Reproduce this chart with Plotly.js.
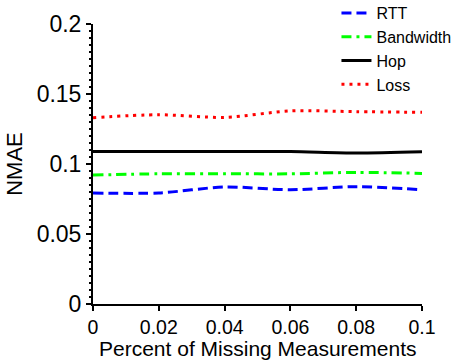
<!DOCTYPE html>
<html>
<head>
<meta charset="utf-8">
<script src="https://cdn.plot.ly/plotly-3.0.1.min.js"></script>
<style>html,body{margin:0;padding:0;background:#fff;}#chart{width:464px;height:360px;}</style>
</head>
<body>
<div id="chart"></div>
<script>
const missing = [0, 0.02, 0.04, 0.06, 0.08, 0.1];
const rtt = [0.0793, 0.0793, 0.0836, 0.0816, 0.0838, 0.0816];
const bandwidth = [0.0921, 0.0930, 0.0930, 0.0930, 0.0940, 0.0933];
const hop = [0.1090, 0.1090, 0.1090, 0.1089, 0.1079, 0.1088];
const loss = [0.1331, 0.1352, 0.1333, 0.1379, 0.1374, 0.1369];
const xTicks = [0, 0.02, 0.04, 0.06, 0.08, 0.1];
const xTickText = ['0', '0.02', '0.04', '0.06', '0.08', '0.1'];
const yTicks = [0, 0.05, 0.1, 0.15, 0.2];
const yTickText = ['0', '0.05', '0.1', '0.15', '0.2'];
const xTitle = 'Percent of Missing Measurements';
const yTitle = 'NMAE';

const FONT = 'Liberation Sans, Arial, Helvetica, sans-serif';
function tr(name, y, color, dash) {
  return {x: missing, y: y, name: name, type: 'scatter', mode: 'lines',
    line: {color: color, width: 3, dash: dash, shape: 'spline', smoothing: 0.8}};
}
const data = [
  tr('RTT', rtt, '#0000ff', '10px,5px'),
  tr('Bandwidth', bandwidth, '#00ff00', '10px,5px,3px,5px'),
  tr('Hop', hop, '#000000', 'solid'),
  tr('Loss', loss, '#ff0000', '3px,5px')
];
const layout = {
  width: 464, height: 360,
  margin: {l: 93, r: 42, t: 24, b: 56, autoexpand: false},
  paper_bgcolor: '#fff', plot_bgcolor: '#fff',
  font: {family: FONT, color: '#000', size: 21},
  showlegend: true,
  legend: {x: 0.74, xanchor: 'left', y: 1.1, yanchor: 'top', bgcolor: 'rgba(0,0,0,0)',
    font: {size: 16, family: FONT}, itemwidth: 30, tracegroupgap: 0},
  xaxis: {range: [0, 0.1], tickvals: xTicks, ticktext: xTickText, showgrid: false, zeroline: false,
    showline: true, linecolor: '#000', linewidth: 2, ticks: 'outside', ticklen: 5, tickwidth: 2, tickcolor: '#000',
    ticklabelstandoff: 0,
    tickfont: {size: 19.5}},
  yaxis: {range: [0, 0.2], tickvals: yTicks, ticktext: yTickText, showgrid: false, zeroline: false,
    showline: true, linecolor: '#000', linewidth: 2, ticks: 'outside', ticklen: 5, tickwidth: 2, tickcolor: '#000',
    tickfont: {size: 23},
    minor: {dtick: 0.005, ticks: 'outside', ticklen: 2.5, tickwidth: 1.5, tickcolor: '#000', showgrid: false},
    title: {text: yTitle, font: {size: 22}, standoff: 8}},
  annotations: [{text: xTitle, xref: 'paper', yref: 'paper', x: 0.5, y: -56/280, xanchor: 'center', yanchor: 'bottom',
    showarrow: false, font: {size: 21, family: FONT, color: '#000'}, borderpad: 0, yshift: -1}]
};
Plotly.newPlot('chart', data, layout, {displayModeBar: false, staticPlot: true});
</script>
</body>
</html>
